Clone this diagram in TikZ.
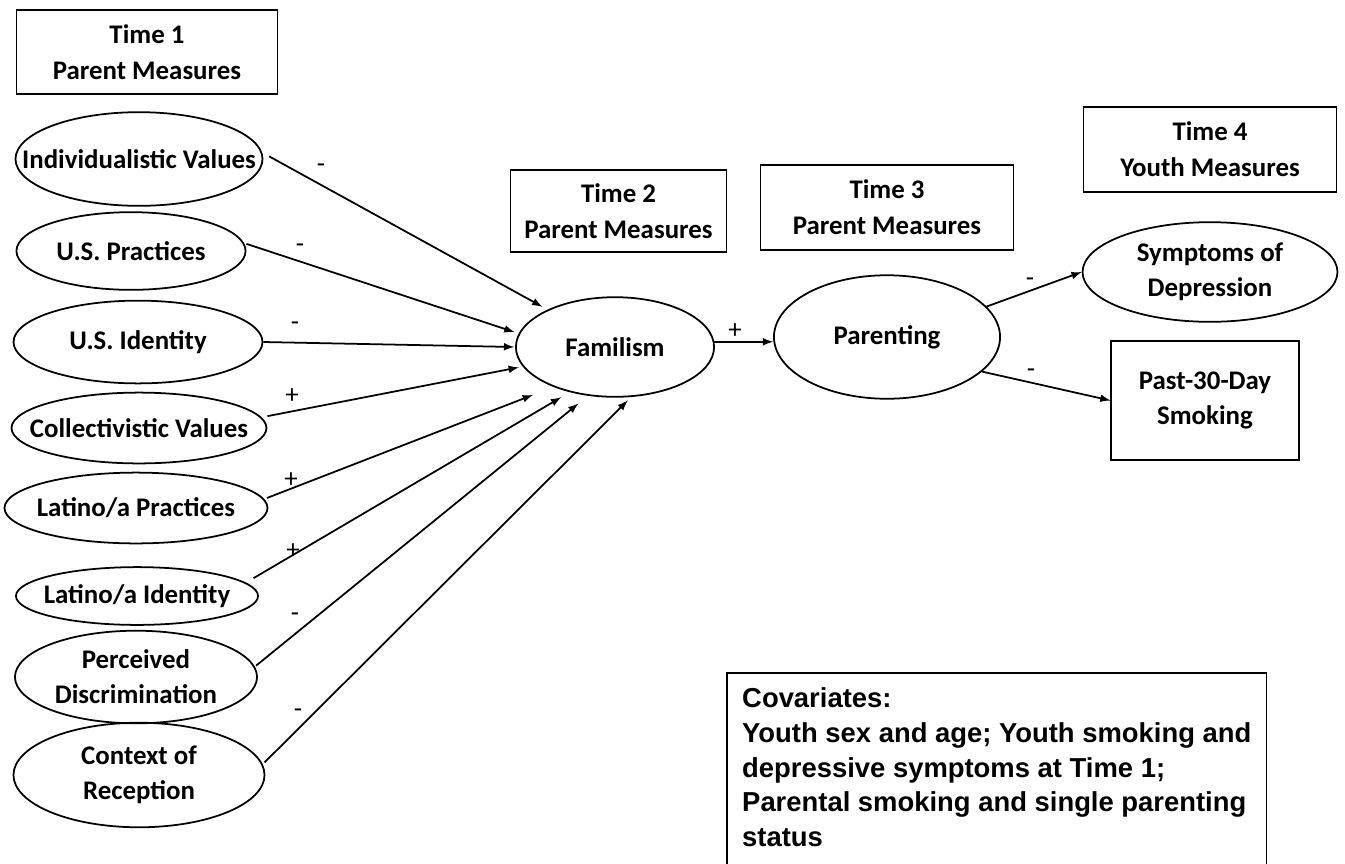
\documentclass[tikz,border=0pt]{standalone}
\usepackage{fontspec}
\setmainfont{Carlito}
\newfontfamily\covfont{Liberation Sans}
\usetikzlibrary{shapes.geometric}

\tikzset{
  var/.style={ellipse,draw,line width=1pt,inner sep=-30pt,align=center,
    font=\fontsize{15.3}{20}\selectfont\bfseries},
  timebox/.style={rectangle,draw,line width=1pt,inner sep=0pt,align=center,
    font=\fontsize{15.3}{20.4}\selectfont\bfseries},
  arr/.style={-latex,line width=1pt},
  sgn/.style={inner sep=0pt,font=\fontsize{15.3}{18}\selectfont}
}

\begin{document}
\begin{tikzpicture}[x=0.02cm,y=-0.02cm]
   \useasboundingbox (0,0) rectangle (1345,863);
   % measurement waves
   \node[timebox,minimum width=148.5pt,minimum height=47.6pt] (t1) at (147,52) {Time 1\\Parent Measures};
   \node[timebox,minimum width=123pt,minimum height=46.5pt] (t2) at (618.5,211) {Time 2\\Parent Measures};
   \node[timebox,minimum width=144pt,minimum height=48.2pt] (t3) at (887,207.5) {Time 3\\Parent Measures};
   \node[timebox,minimum width=144pt,minimum height=48.2pt] (t4) at (1210,149.5) {Time 4\\Youth Measures};
   % time 1 predictors
   \node[var,minimum width=140.6pt,minimum height=53.3pt] (ind) at (139,159) {Individualistic Values};
   \node[var,minimum width=130.4pt,minimum height=44.2pt] (usp) at (131,251) {U.S. Practices};
   \node[var,minimum width=141.7pt,minimum height=47.1pt] (usi) at (138,342) {U.S. Identity};
   \node[var,minimum width=145.1pt,minimum height=40.3pt] (col) at (139,428) {Collectivistic Values};
   \node[var,minimum width=149.7pt,minimum height=40.3pt] (latp) at (136,508) {Latino/a Practices};
   \node[var,minimum width=137.8pt,minimum height=32.9pt] (lati) at (137,596) {Latino/a Identity};
   \node[var,minimum width=137.8pt,minimum height=52.7pt] (pd) at (136,677) {Perceived\\Discrimination};
   \node[var,minimum width=142.9pt,minimum height=59.5pt] (cor) at (139,775) {Context of\\Reception};
   % mediators and outcomes
   \node[var,minimum width=112.8pt,minimum height=56.7pt] (fam) at (615,347) {Familism};
   \node[var,minimum width=128.7pt,minimum height=70.3pt] (par) at (887,337) {Parenting};
   \node[var,minimum width=145.1pt,minimum height=56.7pt] (sym) at (1210,272) {Symptoms of\\Depression};
   \node[timebox,minimum width=106.6pt,minimum height=67.5pt] (smk) at (1205,400.5) {Past-30-Day\\Smoking};
   % paths
   \foreach \src/\a/\b/\sa/\sb in {ind/3/151/4.5pt/3.4pt, usp/4/172/1.4pt/2.5pt,
       usi/0/180/0pt/0.5pt, col/5/192/3.4pt/2.3pt, latp/4/213/1.7pt/12.6pt,
       lati/7/225/5pt/5.7pt, pd/5/241/0.8pt/7pt, cor/5/288/1.4pt/2.8pt}
     \draw[arr,shorten <=\sa,shorten >=\sb] (\src.\a) -- (fam.\b);
   \draw[arr] (fam.3) -- (fam.3 -| par.west);
   \draw[arr] (par.17) -- (sym.west);
   \draw[arr] (par.340) -- (smk.west);
   % signs
   \node[sgn] (sInd) at (321,168) {-};
   \node[sgn] (sUsp) at (300,248) {-};
   \node[sgn] (sUsi) at (295,326) {-};
   \node[sgn] (sCol) at (292,396) {+};
   \node[sgn] (sLatp) at (291,480) {+};
   \node[sgn] (sLati) at (293,551) {+};
   \node[sgn] (sPd) at (295,617) {-};
   \node[sgn] (sCor) at (298,713) {-};
   \node[sgn] (sFam) at (735,331) {+};
   \node[sgn] (sSym) at (1030,282) {-};
   \node[sgn] (sSmk) at (1031,373) {-};
   % covariates
   \node[align=left,minimum width=306.7pt,inner xsep=0pt,inner ysep=7.9pt,anchor=north west,
     font=\covfont\bfseries\fontsize{15.6}{19.9}\selectfont] (cov) at (727,673)
     {Covariates:\\Youth sex and age; Youth smoking and\\depressive symptoms at Time 1;\\Parental smoking and single parenting\\status};
   \draw[line width=1pt] ([yshift=-20pt]cov.south west) |- (cov.north east) -- ([yshift=-20pt]cov.south east);
\end{tikzpicture}
\end{document}
